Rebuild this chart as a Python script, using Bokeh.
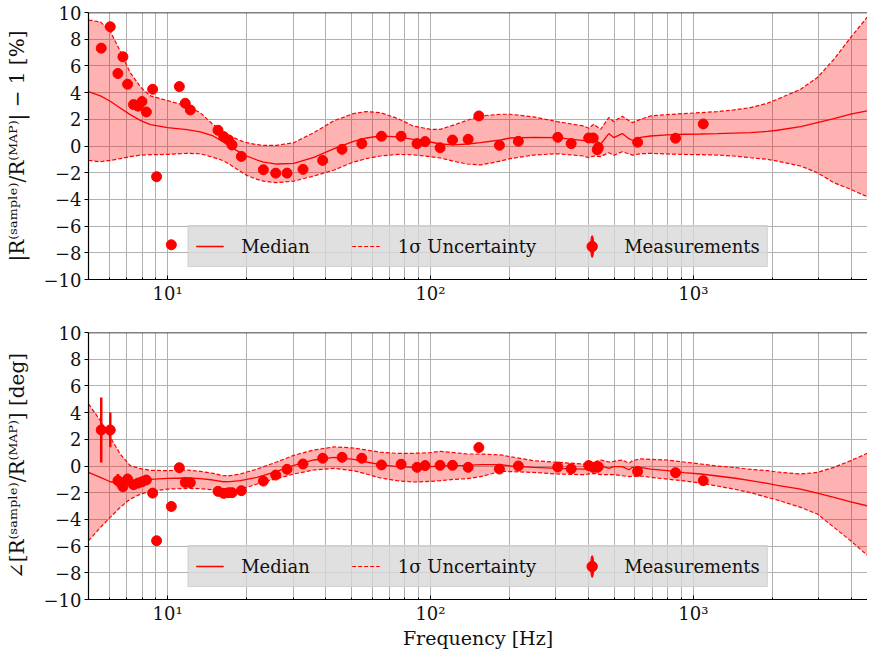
import numpy as np
from bokeh.plotting import figure
from bokeh.layouts import column
from bokeh.models import Legend, LegendItem, FixedTicker, Span
from bokeh.embed import file_html
from bokeh.resources import INLINE

# ---------------- data ----------------
freq_curve = [5.0, 5.55, 6.05, 6.6, 7.2, 7.9, 8.6, 10, 11.85, 13.3, 14.9, 16.3, 17.3, 18.9, 20,
              21.9, 23.2, 26, 30.2, 36, 43, 51, 57, 64.5, 74.6, 86, 100, 109, 123, 138, 155,
              185, 201, 247, 303, 383, 400, 418, 444, 477, 498, 537, 569, 586, 630, 688, 796,
              921, 1066, 1234, 1427, 1652, 1912, 2088, 2561, 2965, 3430, 3970, 4690]

mag_median = [4.08, 3.75, 3.35, 2.85, 2.35, 1.9, 1.6, 1.38, 1.22, 1.05, 0.75, 0.3, -0.05, -0.5, -0.75,
              -1.05, -1.2, -1.35, -1.3, -0.85, -0.2, 0.35, 0.6, 0.75, 0.68, 0.5, 0.3, 0.15, 0.08, 0.15, 0.25,
              0.45, 0.6, 0.65, 0.63, 0.4, 0.33, 0.6, 0.13, 0.93, 0.63, 0.93, 0.55, 0.43, 0.65, 0.75, 0.83,
              0.88, 0.9, 0.93, 0.97, 1.0, 1.1, 1.18, 1.45, 1.75, 2.05, 2.38, 2.68]
mag_upper = [9.43, 9.3, 8.6, 7.1, 5.5, 4.4, 3.75, 3.4, 3.0, 2.5, 1.6, 1.1, 0.75, 0.4, 0.25,
             0.1, 0.05, 0.05, 0.25, 1.0, 1.9, 2.43, 2.58, 2.5, 2.08, 1.5, 1.25, 1.25, 1.58, 1.93, 2.25,
             2.38, 2.38, 2.18, 1.83, 1.5, 1.33, 1.63, 1.25, 2.13, 1.83, 2.23, 1.9, 1.75, 2.0, 2.25, 2.35,
             2.43, 2.5, 2.58, 2.7, 2.88, 3.2, 3.5, 4.25, 5.13, 6.5, 8.13, 9.88]
mag_lower = [-1.08, -1.18, -1.08, -0.95, -0.8, -0.68, -0.65, -0.63, -0.55, -0.58, -0.85, -1.1, -1.4, -1.9, -2.2,
             -2.5, -2.63, -2.75, -2.63, -2.25, -1.8, -1.2, -0.95, -0.75, -0.63, -0.66, -0.8, -0.9, -1.15, -1.35, -1.42,
             -1.13, -0.95, -0.68, -0.58, -0.75, -0.88, -0.75, -0.8, -0.5, -0.7, -0.43, -0.6, -0.68, -0.58, -0.55, -0.6,
             -0.63, -0.65, -0.68, -0.75, -0.88, -1.0, -1.13, -1.5, -2.0, -2.75, -3.25, -3.88]

pha_median = [-0.48, -0.85, -1.18, -1.28, -1.18, -1.08, -1.0, -0.93, -0.9, -0.95, -1.05, -1.18, -1.17, -1.1, -1.0,
              -0.85, -0.7, -0.4, 0.05, 0.45, 0.65, 0.5, 0.3, 0.1, -0.05, -0.1, -0.05, 0.0, 0.03, 0.05, 0.1,
              0.1, 0.0, -0.1, -0.18, -0.23, -0.15, -0.1, 0.03, -0.18, -0.05, -0.05, -0.28, -0.1, -0.1, -0.23, -0.35,
              -0.5, -0.6, -0.75, -0.9, -1.1, -1.3, -1.45, -1.73, -2.03, -2.35, -2.68, -3.03]
pha_upper = [4.65, 3.4, 2.15, 0.9, 0.03, -0.2, -0.32, -0.35, -0.3, -0.4, -0.55, -0.73, -0.72, -0.6, -0.45,
             -0.23, -0.05, 0.3, 0.8, 1.2, 1.43, 1.35, 1.2, 1.03, 0.95, 0.95, 1.0, 1.1, 1.0, 0.9, 0.9,
             0.83, 0.7, 0.4, 0.28, 0.15, 0.2, 0.28, 0.45, 0.3, 0.35, 0.45, 0.2, 0.4, 0.53, 0.5, 0.45,
             0.3, 0.15, 0.0, -0.1, -0.25, -0.35, -0.45, -0.6, -0.48, -0.1, 0.4, 1.03]
pha_lower = [-5.6, -4.6, -3.85, -3.1, -2.48, -2.1, -1.9, -1.73, -1.68, -1.7, -1.78, -1.9, -1.88, -1.73, -1.6,
             -1.35, -1.2, -0.95, -0.6, -0.3, -0.18, -0.35, -0.6, -0.9, -1.1, -1.2, -1.15, -1.1, -1.0, -0.95, -0.8,
             -0.4, -0.42, -0.48, -0.6, -0.65, -0.6, -0.55, -0.65, -0.65, -0.65, -0.73, -0.8, -0.78, -0.75, -0.85, -0.98,
             -1.12, -1.28, -1.5, -1.73, -2.0, -2.35, -2.55, -3.1, -3.6, -4.6, -5.6, -6.85]

freq_meas = [5.59, 6.05, 6.47, 6.76, 7.04, 7.42, 7.73, 7.99, 8.30, 8.77, 9.08, 10.33, 11.08, 11.67, 12.2,
             15.55, 16.34, 17.07, 17.58, 19.08, 23.13, 25.78, 28.47, 32.74, 38.9, 46.1, 54.8, 65.1, 77.3,
             88.9, 95.4, 108.8, 121.3, 139.1, 152.8, 183, 216, 305, 343, 400, 416, 431, 435, 614, 856, 1091]
mag_meas = [7.33, 8.93, 5.43, 6.68, 4.63, 3.10, 2.98, 3.33, 2.55, 4.25, -2.30, -7.40, 4.45, 3.2, 2.7,
            1.18, 0.7, 0.45, 0.08, -0.78, -1.78, -2.03, -2.03, -1.75, -1.08, -0.25, 0.18, 0.73, 0.73,
            0.18, 0.33, -0.13, 0.45, 0.5, 2.25, 0.05, 0.35, 0.65, 0.18, 0.6, 0.6, -0.28, -0.12, 0.28, 0.58, 1.65]
mag_err = [0.2, 0.2, 0.15, 0.15, 0.1, 0.1, 0.1, 0.1, 0.1, 0.1, 0.1, 0.1, 0.1, 0.1, 0.1,
           0.1, 0.1, 0.1, 0.1, 0.1, 0.1, 0.1, 0.1, 0.1, 0.1, 0.1, 0.1, 0.1, 0.1,
           0.1, 0.1, 0.1, 0.1, 0.1, 0.1, 0.1, 0.1, 0.1, 0.1, 0.1, 0.1, 0.1, 0.1, 0.1, 0.1, 0.1]
pha_meas = [2.7, 2.7, -1.1, -1.55, -0.98, -1.4, -1.28, -1.18, -1.05, -2.03, -5.6, -3.03, -0.13, -1.23, -1.25,
            -1.9, -2.05, -2.0, -2.0, -1.85, -1.13, -0.68, -0.25, 0.15, 0.58, 0.65, 0.58, 0.08, 0.13,
            -0.1, 0.03, 0.05, 0.05, -0.1, 1.38, -0.23, 0.0, -0.08, -0.2, 0.03, -0.1, -0.1, -0.05, -0.4, -0.5, -1.1]
pha_err = [2.44, 1.3, 0.5, 0.35, 0.4, 0.15, 0.1, 0.1, 0.1, 0.1, 0.1, 0.1, 0.1, 0.1, 0.1,
           0.1, 0.1, 0.1, 0.1, 0.1, 0.1, 0.1, 0.1, 0.1, 0.1, 0.1, 0.1, 0.1, 0.1,
           0.1, 0.1, 0.1, 0.1, 0.1, 0.1, 0.1, 0.1, 0.1, 0.1, 0.1, 0.1, 0.1, 0.1, 0.1, 0.1, 0.1]

y_ticks = [-10, -8, -6, -4, -2, 0, 2, 4, 6, 8, 10]
x_major = [10, 100, 1000]
x_major_labels = {10: "10¹", 100: "10²", 1000: "10³"}
legend_labels = ["Median", "1σ Uncertainty", "Measurements"]
mag_ylabel = "|R⁽ˢᵃᵐᵖˡᵉ⁾/R⁽ᴹᴬᴾ⁾| − 1 [%]"
pha_ylabel = "∠[R⁽ˢᵃᵐᵖˡᵉ⁾/R⁽ᴹᴬᴾ⁾] [deg]"
x_label = "Frequency [Hz]"

FONT = "DejaVu Serif"
RED = "#ff0000"
x_minor = [5, 6, 7, 8, 9, 20, 30, 40, 50, 60, 70, 80, 90, 200, 300, 400, 500, 600, 700, 800, 900,
           2000, 3000, 4000]


def make_panel(med, up, lo, meas, err, ylabel, xlabel, border_top, border_bottom):
    p = figure(x_axis_type="log", x_range=(5.0, 4600), y_range=(-10, 10),
               frame_width=779, frame_height=267, output_backend="svg", toolbar_location=None,
               min_border_left=88, min_border_right=0, min_border_top=border_top,
               min_border_bottom=border_bottom)
    p.outline_line_color = None
    p.background_fill_color = "white"

    p.xaxis.ticker = FixedTicker(ticks=x_major, minor_ticks=x_minor)
    p.yaxis.ticker = FixedTicker(ticks=y_ticks)
    for g in (p.xgrid, p.ygrid):
        g.grid_line_color = "#b0b0b0"
        g.grid_line_width = 1
    p.xgrid.minor_grid_line_color = "#b0b0b0"
    p.xgrid.minor_grid_line_width = 1

    p.xaxis.major_label_overrides = x_major_labels
    p.yaxis.major_label_overrides = {t: (str(t).replace("-", "−")) for t in y_ticks}
    for ax in (p.xaxis, p.yaxis):
        ax.axis_line_color = "black"
        ax.axis_line_width = 1.2
        ax.major_label_text_font = FONT
        ax.major_label_text_font_size = "18px"
        ax.major_label_text_color = "#111111"
        ax.axis_label_text_font = FONT
        ax.axis_label_text_font_style = "normal"
        ax.axis_label_text_color = "#111111"
    p.yaxis.axis_label_text_font_size = "20px"
    p.xaxis.axis_label_text_font_size = "19px"
    p.xaxis.major_tick_in = 4
    p.xaxis.major_tick_out = 0
    p.xaxis.minor_tick_in = 2
    p.xaxis.minor_tick_out = 0
    p.xaxis.major_tick_line_color = "black"
    p.xaxis.minor_tick_line_color = "black"
    p.xaxis.major_label_standoff = 3
    p.yaxis.major_tick_in = 0
    p.yaxis.major_tick_out = 4
    p.yaxis.minor_tick_line_color = None
    p.yaxis.major_label_standoff = 3
    p.yaxis.axis_label = ylabel
    p.yaxis.axis_label_standoff = 12
    if xlabel:
        p.xaxis.axis_label = xlabel
        p.xaxis.axis_label_standoff = 0

    p.add_layout(Span(location=10, dimension="width", line_color="black", line_width=1.5))

    p.varea(x=freq_curve, y1=lo, y2=up, fill_color=RED, fill_alpha=0.3)
    r_med = p.line(freq_curve, med, line_color=RED, line_width=1.3)
    r_up = p.line(freq_curve, up, line_color=RED, line_width=1.2, line_dash="4 2")
    p.line(freq_curve, lo, line_color=RED, line_width=1.2, line_dash="4 2")

    y0 = [m - e for m, e in zip(meas, err)]
    y1 = [m + e for m, e in zip(meas, err)]
    p.segment(x0=freq_meas, y0=y0, x1=freq_meas, y1=y1, line_color=RED, line_width=2.5)
    # thin tall ellipse hidden under each dot: gives the vertical bar of the legend handle
    r_bar = p.ellipse(x=freq_meas, y=meas, width=1, height=8, width_units="screen",
                      height_units="screen", fill_color=RED, line_color=RED, line_width=1.5)
    r_pt = p.scatter(freq_meas, meas, marker="circle", size=10, fill_color=RED, line_color=RED)

    legend = Legend(items=[LegendItem(label=legend_labels[0], renderers=[r_med]),
                           LegendItem(label=legend_labels[1], renderers=[r_up]),
                           LegendItem(label=legend_labels[2], renderers=[r_bar, r_pt])],
                    location="bottom_center", orientation="horizontal")
    legend.background_fill_color = "#d8d8d8"
    legend.background_fill_alpha = 0.8
    legend.border_line_color = "#cccccc"
    legend.border_line_alpha = 0.8
    legend.label_text_font = FONT
    legend.label_text_font_size = "18px"
    legend.label_text_color = "#111111"
    legend.glyph_width = 28
    legend.glyph_height = 26
    legend.label_standoff = 18
    legend.spacing = 42
    legend.padding = 7
    legend.margin = 12
    p.add_layout(legend)
    return p


p1 = make_panel(mag_median, mag_upper, mag_lower, mag_meas, mag_err, mag_ylabel, None, 12, 33)
p2 = make_panel(pha_median, pha_upper, pha_lower, pha_meas, pha_err, pha_ylabel, x_label, 20, 50)

layout = column(p1, p2, spacing=0)
open("out.html", "w").write(file_html(layout, INLINE))
